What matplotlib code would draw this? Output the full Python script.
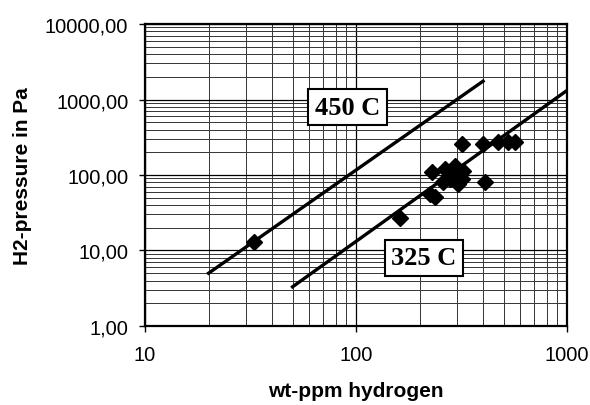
import numpy as np
import matplotlib.pyplot as plt
from matplotlib.ticker import FixedLocator, LogLocator, NullFormatter, FuncFormatter

# measured points (wt-ppm hydrogen, H2 pressure in Pa)
ppm = [33, 162, 224, 236, 229, 264, 295, 321, 279, 304, 258, 288, 318,
       317, 401, 408, 470, 525, 565]
pressure = [13.1, 27, 56, 51, 110, 120, 132, 113, 88, 77, 81, 103, 88,
            257, 257, 81, 273, 273, 273]

# Sieverts lines
line450_x = [20, 400]
line450_y = [5.0, 1750]
line325_x = [50, 1000]
line325_y = [3.3, 1320]

fig = plt.figure(figsize=(5.9, 4.06), dpi=100)
ax = fig.add_axes([0.2458, 0.1946, 0.7153, 0.7438])

ax.set_xscale('log')
ax.set_yscale('log')
ax.set_xlim(10, 1000)
ax.set_ylim(1, 10000)

# grid
ax.grid(True, which='major', color='black', linewidth=0.9)
ax.grid(True, which='minor', color='0.2', linewidth=0.7)
ax.set_axisbelow(True)
ax.xaxis.set_minor_locator(LogLocator(base=10, subs=np.arange(2, 10)))
ax.yaxis.set_minor_locator(LogLocator(base=10, subs=np.arange(2, 10)))
ax.xaxis.set_minor_formatter(NullFormatter())
ax.yaxis.set_minor_formatter(NullFormatter())

ax.plot(line450_x, line450_y, color='black', linewidth=2.4)
ax.plot(line325_x, line325_y, color='black', linewidth=2.4)
ax.plot(ppm, pressure, linestyle='none', marker='D', markersize=8.5,
        color='black', zorder=5)

box = dict(boxstyle='square,pad=0.25', facecolor='white', edgecolor='black', linewidth=1.5)
ax.text(91, 790, '450 C', fontsize=19, fontweight='bold', family='Liberation Serif',
        ha='center', va='center', bbox=box, zorder=6)
ax.text(210, 8.0, '325 C', fontsize=19, fontweight='bold', family='Liberation Serif',
        ha='center', va='center', bbox=box, zorder=6)

# tick labels
ax.xaxis.set_major_locator(FixedLocator([10, 100, 1000]))
ax.yaxis.set_major_locator(FixedLocator([1, 10, 100, 1000, 10000]))
ax.xaxis.set_major_formatter(FuncFormatter(lambda v, p: '%d' % v))
ax.yaxis.set_major_formatter(FuncFormatter(lambda v, p: ('%.2f' % v).replace('.', ',')))
ax.tick_params(axis='both', which='major', length=4, width=1, labelsize=14.5,
               colors='black')
ax.tick_params(axis='y', which='major', pad=8)
ax.tick_params(axis='x', which='major', pad=10)
ax.tick_params(which='minor', length=0)
for lab in ax.get_xticklabels() + ax.get_yticklabels():
    lab.set_family('Liberation Sans')

for s in ax.spines.values():
    s.set_linewidth(1.6)
    s.set_color('black')

ax.set_xlabel('wt-ppm hydrogen', fontsize=15, fontweight='bold',
              family='Liberation Sans', labelpad=12)
ax.set_ylabel('H2-pressure in Pa', fontsize=15, fontweight='bold',
              family='Liberation Sans', labelpad=9)

fig.savefig('out.png', dpi=100)
